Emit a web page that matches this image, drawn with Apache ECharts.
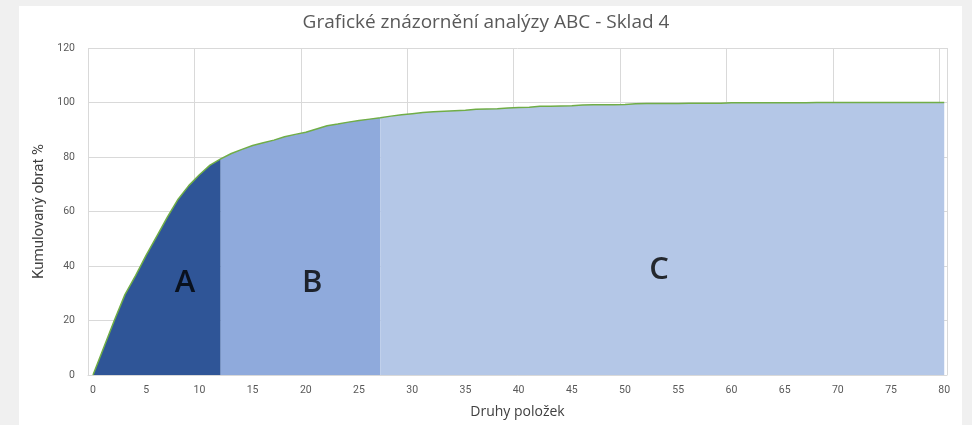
<!DOCTYPE html>
<html>
<head>
<meta charset="utf-8">
<script src="https://cdn.jsdelivr.net/npm/echarts@6/dist/echarts.min.js"></script>
<style>
html,body{margin:0;padding:0;background:#f0f0f0;}
#chart{width:972px;height:425px;}
</style>
</head>
<body>
<div id="chart"></div>
<script>
const titleText = 'Grafické znázornění analýzy ABC - Sklad 4';
const yName = 'Kumulovaný obrat %';
const xName = 'Druhy položek';
const xTicks = [0,5,10,15,20,25,30,35,40,45,50,55,60,65,70,75,80];
const items = Array.from({length: 81}, (_, i) => i);
const cumulative = [
  0, 10, 20, 29.5, 36.5, 44, 51, 58, 64.5, 69.5,
  73.5, 77, 79.3, 81.3, 82.8, 84.2, 85.2, 86.2, 87.4, 88.3,
  89.1, 90.3, 91.5, 92.1, 92.8, 93.4, 93.9, 94.4, 95, 95.5,
  95.9, 96.3, 96.6, 96.8, 97, 97.2, 97.5, 97.6, 97.7, 98.0,
  98.2, 98.3, 98.6, 98.6, 98.7, 98.8, 99.1, 99.2, 99.2, 99.2,
  99.3, 99.5, 99.6, 99.6, 99.6, 99.6, 99.7, 99.7, 99.7, 99.7,
  99.9, 99.9, 99.9, 99.9, 99.9, 99.9, 99.9, 99.9, 100, 100,
  100, 100, 100, 100, 100, 100, 100, 100, 100, 100, 100
];
const groupNames = ['A', 'B', 'C'];
const groupEnds = [12, 27, 80];
const labelPos = [[8.65, 33.8], [20.6, 33.8], [53.2, 38.5]];
const groupColors = ['#2f5597', '#8faadc', '#b4c7e7'];

const pts = items.map(i => [i, cumulative[i]]);
const areaSeries = [];
let start = 0;
groupEnds.forEach((end, g) => {
  areaSeries.push({
    type: 'line',
    data: pts.slice(start, end + 1),
    symbol: 'none',
    lineStyle: {width: 0},
    areaStyle: {color: groupColors[g], opacity: 1},
    z: 2,
    silent: true
  });
  start = end;
});

const chart = echarts.init(document.getElementById('chart'));
chart.setOption({
  animation: false,
  backgroundColor: '#f0f0f0',
  graphic: [{
    type: 'rect', z: -10, silent: true,
    shape: {x: 19, y: 6, width: 943, height: 430},
    style: {fill: '#ffffff'}
  }],
  title: {
    text: titleText, left: 'center', top: 8,
    textStyle: {fontFamily: 'Open Sans', fontSize: 19, fontWeight: 'normal', color: '#595959'}
  },
  grid: {left: 88, right: 25, top: 48, bottom: 50, containLabel: false},
  xAxis: [{
    type: 'value', min: -0.47, max: 80.26,
    name: xName, nameLocation: 'middle', nameGap: 30,
    nameTextStyle: {fontFamily: 'Open Sans', fontSize: 14, color: '#404040'},
    axisLine: {show: true, lineStyle: {color: '#d9d9d9', width: 1}},
    axisTick: {show: false},
    splitLine: {show: false},
    axisLabel: {customValues: xTicks, color: '#595959', fontSize: 10.5, fontFamily: 'Liberation Sans Narrow, Roboto', margin: 10}
  }, {
    type: 'value', min: 0, max: 80.73, interval: 10,
    axisLine: {show: false}, axisTick: {show: false}, axisLabel: {show: false},
    splitLine: {show: true, lineStyle: {color: '#d9d9d9', width: 1}}
  }],
  yAxis: {
    type: 'value', min: 0, max: 120, interval: 20,
    name: yName, nameLocation: 'middle', nameGap: 40,
    nameTextStyle: {fontFamily: 'Liberation Sans Narrow, Roboto', fontSize: 15, color: '#404040'},
    axisLine: {show: false}, axisTick: {show: false},
    axisLabel: {color: '#595959', fontSize: 10.5, fontFamily: 'Liberation Sans Narrow, Roboto', margin: 13},
    splitLine: {show: true, lineStyle: {color: '#d9d9d9', width: 1}}
  },
  series: [
    ...areaSeries,
    {
      type: 'line', data: pts, symbol: 'none', z: 3, silent: true,
      lineStyle: {color: '#70ad47', width: 1.5}
    },
    {
      type: 'scatter', symbolSize: 0, z: 4, silent: true,
      data: labelPos.map((p, i) => [p[0], p[1], groupNames[i]]),
      label: {
        show: true, position: 'inside',
        formatter: p => p.value[2],
        fontFamily: 'Open Sans', fontSize: 31, fontWeight: 600, color: '#000000'
      }
    }
  ]
});
</script>
</body>
</html>
